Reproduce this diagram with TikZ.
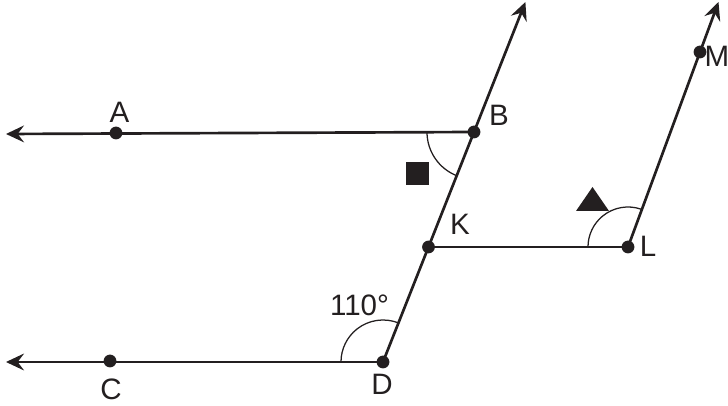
\documentclass[tikz,border=0pt]{standalone}
\usepackage{fontspec}
\setmainfont{Liberation Sans}
\usepackage{xcolor}
\usepackage{tikz}
\usetikzlibrary{arrows.meta,angles}
\definecolor{geoink}{HTML}{231F20}
\tikzset{
  ray/.style={-{Stealth[length=4.5mm,width=4.2mm,inset=1.6mm]},line width=1.9pt,draw=geoink},
  seg/.style={line width=1.9pt,draw=geoink},
  anglearc/.style={draw=geoink,line width=0.9pt},
  ptlabel/.style={inner sep=0pt,text=geoink,font=\fontsize{21}{23}\selectfont},
  sqmark/.style={rectangle,fill=geoink,inner sep=0pt,minimum size=5.75mm},
}

\begin{document}
\begin{tikzpicture}[x=0.025cm,y=0.025cm]
  \useasboundingbox (0,0) rectangle (728,406);
  % points
  \coordinate (A) at (116,273);
  \coordinate (B) at (474,274);
  \coordinate (C) at (110,45);
  \coordinate (D) at (383,44);
  \coordinate (K) at (428.5,159);
  \coordinate (L) at (628,159);
  \coordinate (M) at (700,354);
  \coordinate (endA) at (6,272);
  \coordinate (endC) at (6,44);
  \coordinate (endB) at (525.4,404);
  \coordinate (endM) at (718.5,404);
  % angle arcs
  \pic[anglearc,angle radius=1.175cm] {angle=A--B--K};
  \pic[anglearc,angle radius=1.05cm] {angle=B--D--C};
  \pic[anglearc,angle radius=1.0cm] {angle=M--L--K};
  % lines
  \draw[ray] (B) -- (endA);
  \draw[ray] (D) -- (endC);
  \draw[ray] (D) -- (endB);
  \draw[seg] (K) -- (L);
  \draw[ray] (L) -- (endM);
  \foreach \p in {A,B,C,D,K,L,M}
    \fill[geoink] (\p) circle (1.6mm);
  % labels
  \node[ptlabel] (labA) at (119.5,293.5) {A};
  \node[ptlabel] (labB) at (499,291) {B};
  \node[ptlabel] (labC) at (111,17) {C};
  \node[ptlabel] (labD) at (382,22) {D};
  \node[ptlabel] (labK) at (460,182) {K};
  \node[ptlabel] (labL) at (648,160) {L};
  \node[ptlabel] (labM) at (717,350) {M};
  \node[ptlabel] (ang) at (359.5,101) {110°};
  % angle marks
  \node[sqmark] (sq) at (417.5,232.5) {};
  \fill[geoink] (576,195) -- (609,195) -- (592.5,219) -- cycle;
\end{tikzpicture}
\end{document}
